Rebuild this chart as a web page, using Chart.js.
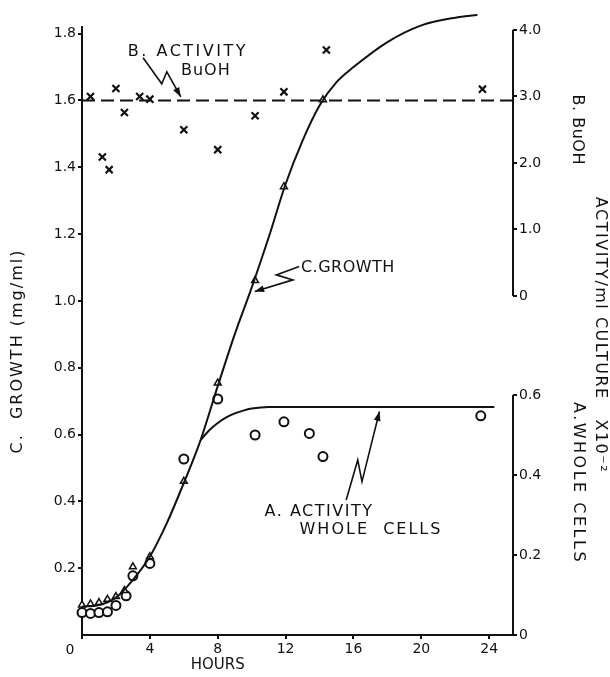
<!DOCTYPE html>
<html>
<head>
<meta charset="utf-8">
<script src="https://cdn.jsdelivr.net/npm/chart.js@4.4.1/dist/chart.umd.min.js"></script>
<style>
  html, body { margin: 0; padding: 0; background: #fff; }
</style>
</head>
<body>
<canvas id="chart" width="610" height="677"></canvas>
<script>
// C. growth (mg/ml), triangles, left axis
const growthHours = [0, 0.5, 1, 1.5, 2, 2.5, 3, 4, 6, 8, 10.2, 11.9, 14.2, 23.6]
const growthValues = [0.09, 0.093, 0.097, 0.107, 0.115, 0.133, 0.204, 0.234, 0.46, 0.754, 1.061, 1.342, 1.602, 1.853]

// hand drawn growth curve
const growthCurveHours = [0, 1, 2, 3, 4, 5, 6, 7, 8, 9, 10, 11, 12, 13, 14, 15, 16, 18, 20, 22, 23.3]
const growthCurveValues = [0.085, 0.09, 0.112, 0.165, 0.235, 0.335, 0.455, 0.585, 0.745, 0.9, 1.04, 1.19, 1.35, 1.48, 1.585, 1.655, 1.7, 1.775, 1.825, 1.848, 1.856]

// A. activity whole cells, circles, lower right axis
const wholeCellHours = [0, 0.5, 1, 1.5, 2, 2.6, 3, 4, 6, 8, 10.2, 11.9, 13.4, 14.2, 23.5]
const wholeCellValues = [0.056, 0.054, 0.056, 0.058, 0.074, 0.098, 0.148, 0.179, 0.44, 0.59, 0.5, 0.533, 0.504, 0.446, 0.548]

// whole cells curve, from where it leaves the growth curve
const wholeCurveHours = [7, 7.5, 8, 8.5, 9, 9.5, 10, 11, 12, 16, 20, 24.3]
const wholeCurveValues = [0.488, 0.512, 0.53, 0.544, 0.554, 0.561, 0.566, 0.57, 0.57, 0.57, 0.57, 0.57]

// B. activity BuOH, crosses, upper right axis
const buohHours = [0.5, 1.2, 1.6, 2, 2.5, 3.4, 4, 6, 8, 10.2, 11.9, 14.4, 23.6]
const buohValues = [3.0, 2.09, 1.9, 3.12, 2.76, 3.0, 2.96, 2.5, 2.2, 2.71, 3.07, 3.7, 3.11]
const buohLineHours = [0, 25.4]
const buohLineValues = [2.94, 2.94]

// tick labels
const hourTicks = [0, 4, 8, 12, 16, 20, 24]
const growthTicks = [0.2, 0.4, 0.6, 0.8, 1.0, 1.2, 1.4, 1.6, 1.8]
const buohTicks = [0, 1, 2, 3, 4]
const wholeCellTicks = [0, 0.2, 0.4, 0.6]

const pts = (xs, ys) => xs.map((x, i) => ({ x, y: ys[i] }))
const FONT = "'DejaVu Sans', sans-serif"
const INK = '#111'

// annotation arrows: [hours, growth value] points, arrowhead at the end
const arrows = [
  [[3.6, 1.728], [4.7, 1.65], [5.0, 1.686], [5.82, 1.611]],
  [[12.8, 1.103], [11.45, 1.078], [12.43, 1.063], [10.18, 1.028]],
  [[15.57, 0.404], [16.25, 0.524], [16.5, 0.459], [17.53, 0.669]]
]
const notes = [
  { text: 'B. ACTIVITY', at: [2.7, 1.745], align: 'left', spacing: '2.5px' },
  { text: 'BuOH', at: [7.3, 1.689], align: 'center', spacing: '1px' },
  { text: 'C.GROWTH', at: [12.9, 1.099], align: 'left', spacing: '0.5px' },
  { text: 'A. ACTIVITY', at: [10.76, 0.368], align: 'left', spacing: '1.5px' },
  { text: 'WHOLE  CELLS', at: [12.82, 0.314], align: 'left', spacing: '2px' }
]

const figureText = {
  id: 'figureText',
  afterDraw(chart) {
    const { ctx, chartArea, scales: { x, y, yA, yB } } = chart
    const px = ([h, v]) => [x.getPixelForValue(h), y.getPixelForValue(v)]
    ctx.save()
    ctx.strokeStyle = INK
    ctx.fillStyle = INK

    // right axis is broken in two pieces
    const rx = chartArea.right
    ctx.lineWidth = 2
    ctx.beginPath()
    ctx.moveTo(rx, yB.getPixelForValue(0))
    ctx.lineTo(rx, yB.getPixelForValue(4))
    ctx.moveTo(rx, yA.getPixelForValue(0))
    ctx.lineTo(rx, yA.getPixelForValue(0.6))
    ctx.stroke()

    // zigzag arrows
    ctx.lineWidth = 1.6
    for (const a of arrows) {
      const p = a.map(px)
      ctx.beginPath()
      ctx.moveTo(p[0][0], p[0][1])
      p.slice(1).forEach(q => ctx.lineTo(q[0], q[1]))
      ctx.stroke()
      const [x1, y1] = p[p.length - 2]
      const [x2, y2] = p[p.length - 1]
      const ang = Math.atan2(y2 - y1, x2 - x1)
      ctx.beginPath()
      ctx.moveTo(x2, y2)
      ctx.lineTo(x2 - 10 * Math.cos(ang - 0.35), y2 - 10 * Math.sin(ang - 0.35))
      ctx.lineTo(x2 - 10 * Math.cos(ang + 0.35), y2 - 10 * Math.sin(ang + 0.35))
      ctx.closePath()
      ctx.fill()
    }

    ctx.font = '16px ' + FONT
    ctx.textBaseline = 'middle'
    for (const n of notes) {
      const [tx, ty] = px(n.at)
      ctx.textAlign = n.align
      ctx.letterSpacing = n.spacing
      ctx.fillText(n.text, tx, ty)
    }

    // x axis title sits under the 8 hour tick
    ctx.textAlign = 'center'
    ctx.letterSpacing = '0px'
    ctx.font = '15px ' + FONT
    ctx.fillText('HOURS', x.getPixelForValue(8), 665)
    // the origin label sits left of the corner
    ctx.font = '14px ' + FONT
    ctx.fillText('0', chartArea.left - 12, 650)

    // left title
    ctx.font = '16px ' + FONT
    ctx.letterSpacing = '2px'
    ctx.save()
    ctx.translate(18, y.getPixelForValue(0.85))
    ctx.rotate(-Math.PI / 2)
    ctx.fillText('C.  GROWTH (mg/ml)', 0, 0)
    ctx.restore()

    // right titles, reading downwards
    const vert = (text, tx, ty) => {
      ctx.save()
      ctx.translate(tx, ty)
      ctx.rotate(Math.PI / 2)
      ctx.fillText(text, 0, 0)
      ctx.restore()
    }
    ctx.letterSpacing = '0.5px'
    vert('B. BuOH', 577, yB.getPixelForValue(2.5))
    ctx.letterSpacing = '1.5px'
    vert('ACTIVITY/ml CULTURE   X10⁻²', 600, 335)
    ctx.letterSpacing = '2.5px'
    vert('A.WHOLE CELLS', 578, yA.getPixelForValue(0.38))
    ctx.restore()
  }
}

const tickFont = { family: FONT, size: 14 }
const fixedTicks = list => scale => { scale.ticks = list.map(value => ({ value })) }
const num = v => (v === 0 ? '0' : v.toFixed(1))

new Chart(document.getElementById('chart'), {
  data: {
    datasets: [
      {
        type: 'line',
        label: 'C. Growth curve',
        data: pts(growthCurveHours, growthCurveValues),
        yAxisID: 'y',
        borderColor: INK,
        borderWidth: 2,
        pointRadius: 0,
        cubicInterpolationMode: 'monotone',
        clip: false
      },
      {
        type: 'scatter',
        label: 'C. Growth',
        data: pts(growthHours, growthValues),
        yAxisID: 'y',
        pointStyle: 'triangle',
        pointRadius: 4,
        borderColor: INK,
        borderWidth: 1.5,
        backgroundColor: '#fff',
        clip: false
      },
      {
        type: 'line',
        label: 'A. Whole cells curve',
        data: pts(wholeCurveHours, wholeCurveValues),
        yAxisID: 'yA',
        borderColor: INK,
        borderWidth: 2,
        pointRadius: 0,
        cubicInterpolationMode: 'monotone',
        clip: false
      },
      {
        type: 'scatter',
        label: 'A. Activity whole cells',
        data: pts(wholeCellHours, wholeCellValues),
        yAxisID: 'yA',
        pointStyle: 'circle',
        pointRadius: 4.5,
        borderColor: INK,
        borderWidth: 2,
        backgroundColor: '#fff',
        clip: false
      },
      {
        type: 'line',
        label: 'B. BuOH mean',
        data: pts(buohLineHours, buohLineValues),
        yAxisID: 'yB',
        borderColor: INK,
        borderWidth: 2,
        borderDash: [13, 6],
        pointRadius: 0,
        clip: false
      },
      {
        type: 'scatter',
        label: 'B. Activity BuOH',
        data: pts(buohHours, buohValues),
        yAxisID: 'yB',
        pointStyle: 'crossRot',
        pointRadius: 5,
        borderColor: INK,
        borderWidth: 2.2,
        clip: false
      }
    ]
  },
  options: {
    responsive: false,
    animation: false,
    layout: { padding: { top: 27, left: 0, right: 0, bottom: 0 } },
    plugins: {
      legend: { display: false },
      tooltip: { enabled: false }
    },
    scales: {
      x: {
        type: 'linear',
        min: 0,
        max: 25.4,
        afterBuildTicks: fixedTicks(hourTicks),
        afterFit: s => { s.height = 42 },
        grid: { drawOnChartArea: false, tickLength: 4, color: INK, lineWidth: 2 },
        border: { color: INK, width: 2 },
        ticks: { font: tickFont, color: INK, padding: 2, maxRotation: 0, callback: v => (v === 0 ? '' : String(v)) }
      },
      y: {
        type: 'linear',
        position: 'left',
        min: 0,
        max: 1.82,
        afterBuildTicks: fixedTicks(growthTicks),
        afterFit: s => { s.width = 82 },
        grid: { drawOnChartArea: false, tickLength: 4, color: INK, lineWidth: 2 },
        border: { color: INK, width: 2 },
        ticks: { font: tickFont, color: INK, padding: 2, callback: num }
      },
      yB: {
        type: 'linear',
        position: 'right',
        stack: 'right',
        stackWeight: 313,
        min: -0.662,
        max: 4.045,
        afterBuildTicks: fixedTicks(buohTicks),
        afterFit: s => { s.width = 97 },
        grid: { drawOnChartArea: false, tickLength: 4, color: INK, lineWidth: 2 },
        border: { display: false },
        ticks: { font: tickFont, color: INK, padding: 2, callback: num }
      },
      yA: {
        type: 'linear',
        position: 'right',
        stack: 'right',
        stackWeight: 295,
        min: 0,
        max: 0.7375,
        afterBuildTicks: fixedTicks(wholeCellTicks),
        afterFit: s => { s.width = 97 },
        grid: { drawOnChartArea: false, tickLength: 4, color: INK, lineWidth: 2 },
        border: { display: false },
        ticks: { font: tickFont, color: INK, padding: 2, callback: num }
      }
    }
  },
  plugins: [figureText]
})
</script>
</body>
</html>
